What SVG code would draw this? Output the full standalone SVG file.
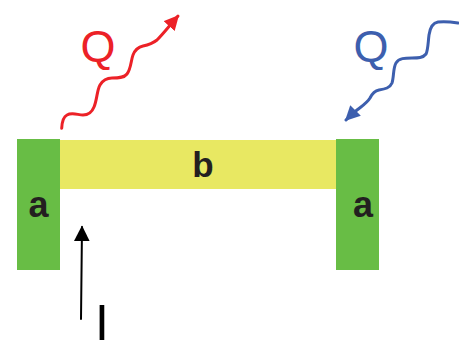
<svg xmlns="http://www.w3.org/2000/svg" width="459" height="340" viewBox="0 0 459 340">
<style>
.lbl{font-family:"Liberation Sans",Arial,sans-serif;font-weight:bold;fill:#231f20;text-anchor:middle}
.q{font-family:"Liberation Sans",Arial,sans-serif;font-size:45px;text-anchor:middle}
</style>
<defs>
<marker id="ah-red" viewBox="0 0 10 10" refX="9" refY="5" markerWidth="5" markerHeight="5" orient="auto" markerUnits="strokeWidth"><path d="M0,0 L10,5 L0,10 z" fill="#ec2127"/></marker>
<marker id="ah-blue" viewBox="0 0 10 10" refX="9" refY="5" markerWidth="5" markerHeight="5" orient="auto" markerUnits="strokeWidth"><path d="M0,0 L10,5 L0,10 z" fill="#3d5fae"/></marker>
<marker id="ah-black" viewBox="0 0 10 10" refX="9" refY="5" markerWidth="8" markerHeight="8" orient="auto" markerUnits="strokeWidth"><path d="M0,0 L10,5 L0,10 z" fill="#000"/></marker>
</defs>
<g id="block-b"><rect x="60" y="140" width="276" height="49" fill="#e8e862"/><text class="lbl" x="203" y="177" font-size="35">b</text></g>
<g id="block-a-left"><rect x="17" y="139" width="43" height="131" fill="#68bd45"/><text class="lbl" x="38.5" y="217" font-size="36">a</text></g>
<g id="block-a-right"><rect x="336" y="139" width="43" height="131" fill="#68bd45"/><text class="lbl" x="363" y="217" font-size="36">a</text></g>
<g id="label-q-red"><text class="q" x="98" y="62" fill="#ec2127">Q</text></g>
<g id="label-q-blue"><text class="q" x="371" y="62" fill="#3d5fae">Q</text></g>
<g id="label-i"><text x="102" y="340" font-family="'Liberation Sans',Arial,sans-serif" font-size="50" fill="#000" text-anchor="middle">I</text></g>
<g id="connectors" fill="none" stroke-linecap="round" stroke-linejoin="round">
<path d="M61.7,128.3 C62,122 63,117 67,115 C72,112 78,115 83,115 C88,115 92,112 94,107 C97,100 97,90 100,85 C103,80 107,78 112,78 C118,78 124,78 127,74 C131,69 131,60 133,55 C135,50 138,47 143,46 C148,45 152,44 157,40 C163,34 170,25 178,16" stroke="#ec2127" stroke-width="3" marker-end="url(#ah-red)"/>
<path d="M458,23 C452,22 445,21 438,22 C432,23 430,28 429,35 C428,43 428,50 426,54 C423,58 418,58 412,58 C405,58 399,58 396,63 C393,68 394,77 392,83 C390,88 385,89 379,90 C374,91 372,94 370,98 C367,103 362,106 357,110 C352,114 348,118 346,120" stroke="#3d5fae" stroke-width="3" marker-end="url(#ah-blue)"/>
<path d="M81,319 L82,227" stroke="#000" stroke-width="2" marker-end="url(#ah-black)"/>
</g>
</svg>
